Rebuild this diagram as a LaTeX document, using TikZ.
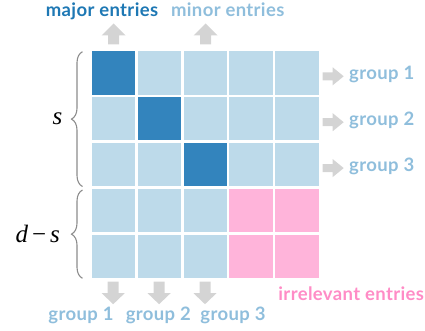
\documentclass[tikz,border=0pt]{standalone}
\usepackage{fontspec}
\newfontfamily\labfont{Lato}[LetterSpace=2]
\newfontfamily\mathlab{Liberation Serif}
\usetikzlibrary{decorations.pathreplacing}
\definecolor{cellc0}{HTML}{BDDAEA}
\definecolor{cellc1}{HTML}{3384BD}
\definecolor{cellc2}{HTML}{FFB4DA}
\definecolor{majorc}{HTML}{1E78B4}
\definecolor{minorc}{HTML}{8FBEDC}
\definecolor{pinkc}{HTML}{FF8CC6}
\definecolor{arrowgray}{HTML}{D4D4D4}
\definecolor{bracegray}{HTML}{8C8C8C}
\begin{document}
\begin{tikzpicture}[x=1pt,y=-1pt,
  cell/.style={minimum size=43.4pt, inner sep=0pt, draw=none, anchor=north west},
  lab/.style={font=\labfont\bfseries\fontsize{18.5}{21}\selectfont, inner sep=0pt},
  mlab/.style={font=\mathlab\itshape\fontsize{25}{28}\selectfont, inner sep=0pt, anchor=base},
  bracestyle/.style={draw=bracegray, line width=1.1pt, decorate,
     decoration={brace, amplitude=11pt}},
  pics/blockarrow/.style n args={4}{code={
    \fill[arrowgray] (0,-#1) -- (#3,-#1) -- (#3,-#2) -- (#4,0) -- (#3,#2) -- (#3,#1) -- (0,#1) -- cycle;}}
]
\useasboundingbox (0,0) rectangle (425,331);
% grid
\foreach \i in {0,...,4}{
  \foreach \j in {0,...,4}{
    \pgfmathtruncatemacro\k{(\i==\j && \i<3) ? 1 : ((\i>2 && \j>2) ? 2 : 0)}
    \node[cell, fill=cellc\k] (c\i\j) at ({91.5+45.9*\j},{51+45.9*\i}) {};
  }
}
% top labels and arrows
\node[lab, text=majorc, anchor=base] (major) at (102,16.5) {major entries};
\node[lab, text=minorc, anchor=base] (minor) at (227.7,16.5) {minor entries};
\pic[rotate=90] at (113.7,44.5) {blockarrow={5.5}{12}{9}{21}};
\pic[rotate=90] at (205.5,44.5) {blockarrow={5.5}{12}{9}{21}};
% right labels and arrows
\foreach \i/\n in {0/1,1/2,2/3}{
  \pic at (322.7,{76.3+45.9*\i}) {blockarrow={4}{9}{10}{21}};
  \node[lab, text=minorc, anchor=base west] (rg\n) at (349,{80+45.9*\i}) {group \n};
}
% bottom arrows and labels
\foreach \j in {0,1,2}{
  \pic[rotate=-90] at ({113.2+45.9*\j},281.7) {blockarrow={5.5}{11.5}{11.5}{22.5}};
}
\node[lab, text=minorc, anchor=base] (bg1) at (81,320) {group 1};
\node[lab, text=minorc, anchor=base] (bg2) at (158.3,320) {group 2};
\node[lab, text=minorc, anchor=base] (bg3) at (233,320) {group 3};
\node[lab, text=pinkc, anchor=base] (irr) at (351.2,300.7) {irrelevant entries};
% braces
\draw[bracestyle] (82.5,186.5) -- (82.5,51.7);
\draw[bracestyle] (82.5,278.3) -- (82.5,190);
\node[mlab] (slab) at (57.5,125) {s};
\node[mlab] (dslab) at (37.8,242.3) {d\kern4pt{\upshape −}\kern4pt s};
\end{tikzpicture}
\end{document}
